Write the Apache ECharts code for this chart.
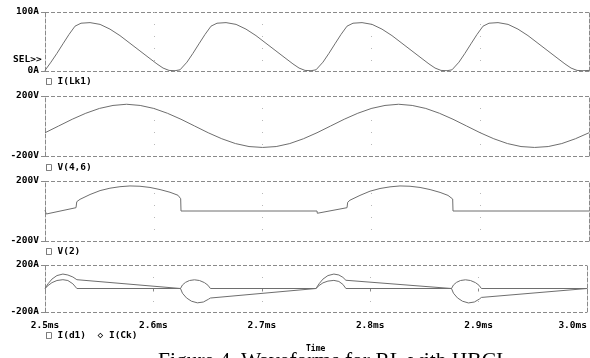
<!DOCTYPE html>
<html>
<head>
<meta charset="utf-8">
<script src="https://cdn.jsdelivr.net/npm/echarts@6/dist/echarts.min.js"></script>
<style>
  html, body { margin: 0; padding: 0; background: #fff; }
  #chart { width: 590px; height: 358px; }
</style>
</head>
<body>
<div id="chart"></div>
<script>
// time axis (ms)
const timeTicks = ['2.5ms', '2.6ms', '2.7ms', '2.8ms', '2.9ms', '3.0ms'];

// I(Lk1) [ms, A]
const iLk1 = [
  [2.5, 1], [2.5055, 15], [2.511, 30], [2.5165, 46], [2.5221, 62], [2.5276, 76], [2.5331, 81], [2.5414, 82],
  [2.5506, 79], [2.5597, 71], [2.5689, 60], [2.5781, 47], [2.5873, 34], [2.5965, 21], [2.6029, 12],
  [2.6085, 5], [2.614, 1], [2.6195, 0.5], [2.6241, 2],
  [2.625, 1], [2.6305, 15], [2.636, 30], [2.6415, 46], [2.6471, 62], [2.6526, 76], [2.6581, 81], [2.6664, 82],
  [2.6756, 79], [2.6847, 71], [2.6939, 60], [2.7031, 47], [2.7123, 34], [2.7215, 21], [2.7279, 12],
  [2.7335, 5], [2.739, 1], [2.7445, 0.5], [2.7491, 2],
  [2.75, 1], [2.7555, 15], [2.761, 30], [2.7665, 46], [2.7721, 62], [2.7776, 76], [2.7831, 81], [2.7914, 82],
  [2.8006, 79], [2.8097, 71], [2.8189, 60], [2.8281, 47], [2.8373, 34], [2.8465, 21], [2.8529, 12],
  [2.8585, 5], [2.864, 1], [2.8695, 0.5], [2.8741, 2],
  [2.875, 1], [2.8805, 15], [2.886, 30], [2.8915, 46], [2.8971, 62], [2.9026, 76], [2.9081, 81], [2.9164, 82],
  [2.9256, 79], [2.9347, 71], [2.9439, 60], [2.9531, 47], [2.9623, 34], [2.9715, 21], [2.9779, 12],
  [2.9835, 5], [2.989, 1], [2.9945, 0.5], [3.0, 1]
];

// V(4,6) [ms, V]
const v46 = [
  [2.5, -45], [2.5125, 0], [2.525, 45], [2.5375, 85], [2.55, 117], [2.5625, 137], [2.575, 145],
  [2.5875, 137], [2.6, 117], [2.6125, 85], [2.625, 45], [2.6375, 0], [2.65, -45], [2.6625, -85],
  [2.675, -117], [2.6875, -137], [2.7, -143], [2.7125, -137], [2.725, -117], [2.7375, -85],
  [2.75, -45], [2.7625, 0], [2.775, 45], [2.7875, 85], [2.8, 117], [2.8125, 137], [2.825, 145],
  [2.8375, 137], [2.85, 117], [2.8625, 85], [2.875, 45], [2.8875, 0], [2.9, -45], [2.9125, -85],
  [2.925, -117], [2.9375, -137], [2.95, -143], [2.9625, -137], [2.975, -117], [2.9875, -85], [3.0, -45]
];

// V(2) [ms, V]
const v2 = [
  [2.5, 5], [2.5012, -20], [2.5285, 22], [2.5292, 62], [2.5322, 78], [2.5414, 110], [2.5506, 136],
  [2.5597, 152], [2.5689, 162], [2.5781, 167], [2.5873, 165], [2.5965, 157], [2.6057, 143],
  [2.6149, 125], [2.6222, 105], [2.6247, 82], [2.625, 0],
  [2.75, 0], [2.7503, -15], [2.7776, 22], [2.7782, 58], [2.7803, 72], [2.7895, 104], [2.7987, 132],
  [2.8079, 150], [2.8171, 161], [2.8263, 167], [2.8355, 165], [2.8447, 157], [2.8539, 143],
  [2.8631, 124], [2.8704, 104], [2.8747, 80], [2.875, 0], [3.0, 0]
];

// I(d1) [ms, A]
const iD1 = [
  [2.5, 0], [2.5028, 25], [2.5064, 50], [2.511, 68], [2.5165, 75], [2.5211, 68], [2.5257, 40], [2.5294, 0],
  [2.625, 0], [2.6268, 30], [2.6296, 52], [2.6333, 68], [2.6379, 74], [2.6425, 68], [2.6471, 50],
  [2.6503, 28], [2.6526, 0],
  [2.75, 0], [2.7528, 25], [2.7564, 48], [2.761, 63], [2.7665, 69], [2.7711, 60], [2.7748, 35], [2.7776, 0],
  [2.875, 0], [2.8768, 30], [2.8796, 52], [2.8833, 68], [2.8879, 74], [2.8925, 68], [2.8971, 50],
  [2.9003, 28], [2.9026, 0], [3.0, 0]
];

// I(Ck) [ms, A]
const iCk = [
  [2.5, 0], [2.5028, 40], [2.5064, 80], [2.511, 110], [2.5165, 123], [2.5211, 115], [2.5257, 98], [2.5294, 75],
  [2.625, 0], [2.6268, -40], [2.6305, -80], [2.6351, -108], [2.6406, -122], [2.6461, -115],
  [2.6507, -92], [2.6526, -81], [2.75, 0],
  [2.7528, 40], [2.7564, 80], [2.761, 110], [2.7665, 123], [2.7711, 115], [2.7748, 95], [2.7776, 70],
  [2.875, 0], [2.8768, -40], [2.8805, -80], [2.8851, -108], [2.8906, -123], [2.8961, -115],
  [2.9007, -90], [2.9026, -76], [3.0, 0]
];

const chartDom = document.getElementById('chart');
const chart = echarts.init(chartDom, null, { renderer: 'canvas' });

const monoFont = 'DejaVu Sans Mono';
const dashGray = '#8a8a8a';
const traceColor = '#6e6e6e';

// one grid per trace panel
const panels = [
  { top: 12, height: 59, min: 0, max: 100, unit: 'A' },
  { top: 96, height: 60, min: -200, max: 200, unit: 'V' },
  { top: 181, height: 60, min: -200, max: 200, unit: 'V' },
  { top: 265, height: 47, min: -200, max: 200, unit: 'A' }
];

const grids = panels.map(p => ({ left: 45, right: 1, top: p.top, height: p.height }));

const xAxes = panels.map((p, i) => ({
  gridIndex: i,
  type: 'value',
  min: 2.5,
  max: 3.0,
  interval: 0.1,
  axisLine: { show: false },
  axisTick: { show: i === 3, length: 3, lineStyle: { color: dashGray } },
  axisLabel: {
    show: i === 3,
    color: '#000',
    fontFamily: monoFont,
    fontWeight: 'bold',
    fontSize: 9.5,
    margin: 9,
    alignMaxLabel: 'right',
    formatter: v => timeTicks[Math.round((v - 2.5) * 10)]
  },
  splitLine: {
    show: true,
    showMinLine: false,
    showMaxLine: false,
    lineStyle: { color: '#b8b8b8', type: [1, 11], width: 1 }
  }
}));

const yAxes = [];
panels.forEach((p, i) => {
  yAxes.push({
    gridIndex: i,
    type: 'value',
    position: 'left',
    min: p.min,
    max: p.max,
    interval: p.max - p.min,
    axisLine: { show: true, lineStyle: { color: dashGray, type: [4, 2] } },
    axisTick: { show: true, length: 4, lineStyle: { color: dashGray } },
    axisLabel: {
      color: '#000',
      fontFamily: monoFont,
      fontWeight: 'bold',
      fontSize: 9.5,
      margin: 6,
      formatter: v => v + p.unit
    },
    splitLine: { show: true, lineStyle: { color: dashGray, type: [4, 2] } }
  });
  yAxes.push({
    gridIndex: i,
    type: 'value',
    position: 'right',
    min: p.min,
    max: p.max,
    axisLine: { show: true, lineStyle: { color: dashGray, type: [4, 2] } },
    axisTick: { show: false },
    axisLabel: { show: false },
    splitLine: { show: false }
  });
});

function trace(name, data, gi) {
  return {
    name: name,
    type: 'line',
    xAxisIndex: gi,
    yAxisIndex: gi * 2,
    data: data,
    showSymbol: false,
    symbol: 'none',
    lineStyle: { color: traceColor, width: 1 },
    silent: true
  };
}

function label(text, left, top, size, family, weight) {
  return {
    type: 'text',
    left: left,
    top: top,
    style: {
      text: text,
      fill: '#000',
      font: (weight || 'bold') + ' ' + size + 'px ' + (family || monoFont)
    }
  };
}

const option = {
  animation: false,
  backgroundColor: '#fff',
  grid: grids,
  xAxis: xAxes,
  yAxis: yAxes,
  series: [
    trace('I(Lk1)', iLk1, 0),
    trace('V(4,6)', v46, 1),
    trace('V(2)', v2, 2),
    trace('I(d1)', iD1, 3),
    trace('I(Ck)', iCk, 3)
  ],
  graphic: [
    label('SEL>>', 13, 55, 9.5),
    label('\u25A1 I(Lk1)', 46, 77, 9.5),
    label('\u25A1 V(4,6)', 46, 163, 9.5),
    label('\u25A1 V(2)', 46, 247, 9.5),
    label('\u25A1 I(d1)  \u25C7 I(Ck)', 46, 331, 9.5),
    label('Time', 306, 345, 8),
    label('Figure 4. Waveforms for RL with HBCI', 158, 350, 21.5, 'Liberation Serif', 'normal')
  ]
};

chart.setOption(option);
</script>
</body>
</html>
